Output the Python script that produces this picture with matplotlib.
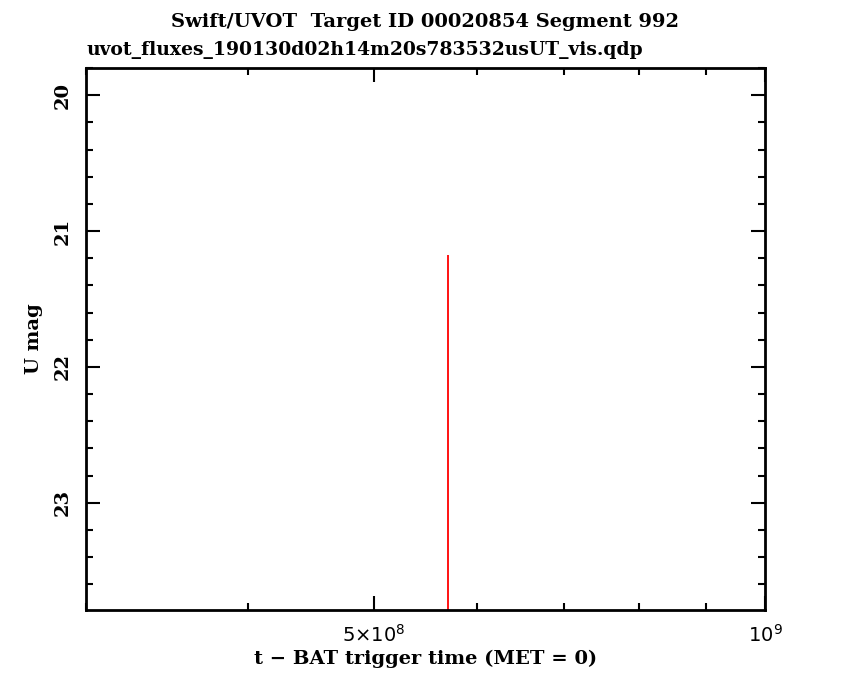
import matplotlib
matplotlib.use("Agg")
import matplotlib.pyplot as plt
from matplotlib.ticker import FixedLocator, FixedFormatter, MultipleLocator, NullFormatter

# data
t_met = [5.70e8]
u_mag = [22.6]
u_err = [1.42]

x_major = [5e8, 1e9]
x_major_labels = [r"5$\times$10$^{8}$", r"10$^{9}$"]
x_minor = [3e8, 4e8, 6e8, 7e8, 8e8, 9e8]
y_major = [20, 21, 22, 23]

plt.rcParams['font.family'] = ['DejaVu Serif']

fig = plt.figure(figsize=(8.5, 6.8), dpi=100)
ax = fig.add_axes([0.1012, 0.1029, 0.7988, 0.7971])

ax.errorbar(t_met, u_mag, yerr=u_err, fmt='none', ecolor='red', elinewidth=1.3, capsize=0)

ax.set_xscale('log')
ax.set_xlim(3e8, 1e9)
ax.set_ylim(23.79, 19.80)

ax.xaxis.set_major_locator(FixedLocator(x_major))
ax.xaxis.set_major_formatter(FixedFormatter(x_major_labels))
ax.xaxis.set_minor_locator(FixedLocator(x_minor))
ax.xaxis.set_minor_formatter(NullFormatter())
ax.yaxis.set_major_locator(FixedLocator(y_major))
ax.yaxis.set_minor_locator(MultipleLocator(0.2))

ax.tick_params(which='both', direction='in', top=True, right=True, width=1.5, labelsize=14)
ax.tick_params(which='major', length=10)
ax.tick_params(which='minor', length=5)
ax.tick_params(axis='x', which='major', pad=10)
ax.tick_params(axis='y', which='major', pad=10)
for lab in ax.get_yticklabels():
    lab.set_rotation(90)
    lab.set_va('center')
    lab.set_fontweight('bold')
for lab in ax.get_xticklabels():
    lab.set_family('DejaVu Sans')
for s in ax.spines.values():
    s.set_linewidth(2)

ax.set_xlabel("t \u2212 BAT trigger time (MET = 0)", fontsize=14, fontweight='bold', labelpad=3)
ax.set_ylabel("U mag", fontsize=14, fontweight='bold', labelpad=8)

fig.text(0.5, 0.967, "Swift/UVOT  Target ID 00020854 Segment 992", ha='center', va='center',
         fontsize=14, fontweight='bold')
fig.text(0.1012, 0.926, "uvot_fluxes_190130d02h14m20s783532usUT_vis.qdp", ha='left', va='center',
         fontsize=13.5, fontweight='bold')

fig.savefig("out.png", dpi=100)
